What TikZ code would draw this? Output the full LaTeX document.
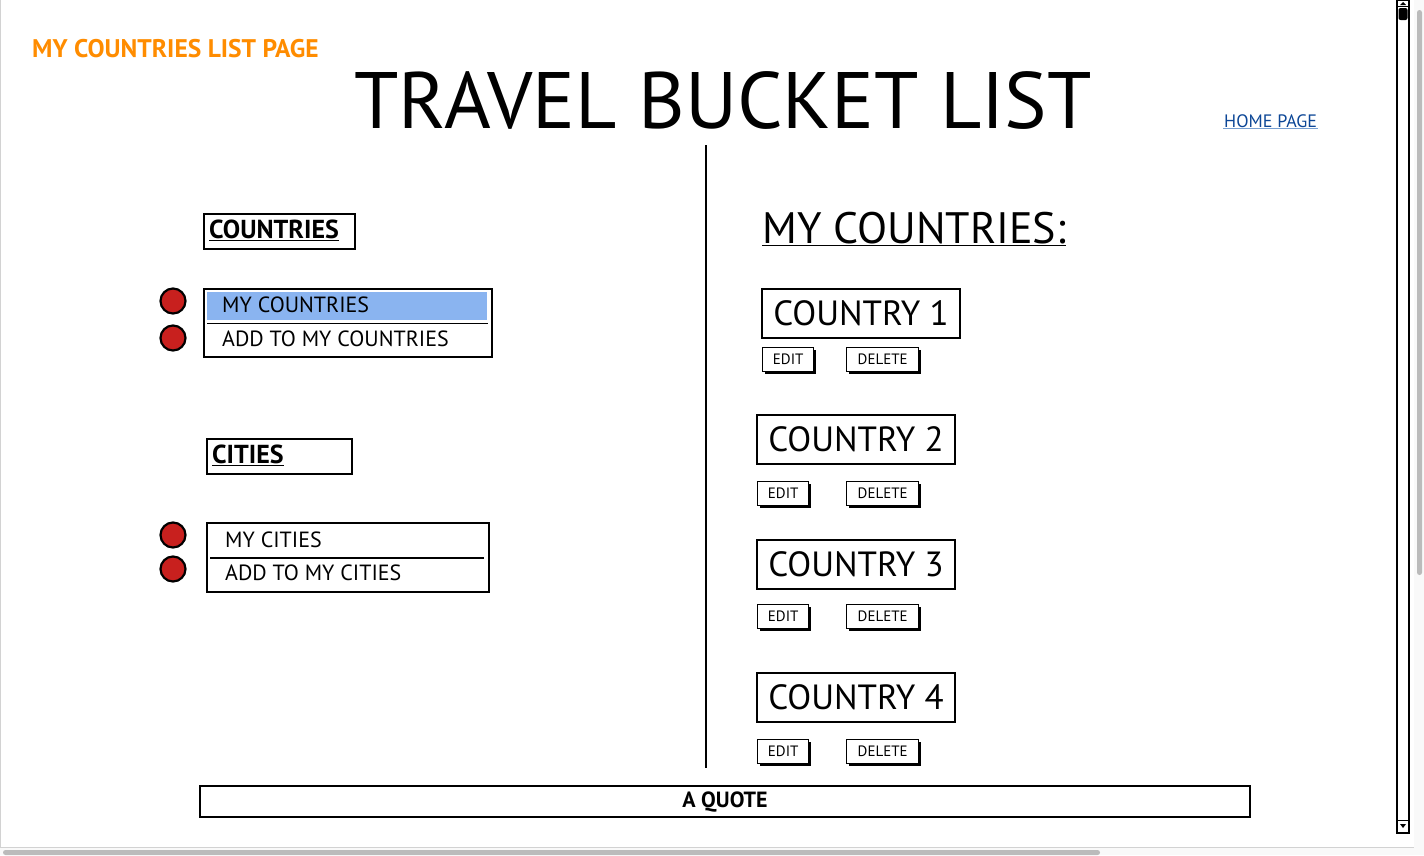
\documentclass[tikz,border=0pt]{standalone}
\usepackage{fontspec}
\setmainfont{PT Sans}
\usetikzlibrary{shadows}

\definecolor{pageorange}{RGB}{255,140,0}
\definecolor{linkblue}{RGB}{12,70,150}
\definecolor{linkline}{RGB}{120,160,210}
\definecolor{selblue}{RGB}{138,180,240}
\definecolor{dotred}{RGB}{200,32,30}
\definecolor{bargray}{RGB}{187,187,187}

\tikzset{
  box/.style={draw,line width=2pt,inner sep=0pt,anchor=north west},
  cbox/.style={box,minimum width=198,minimum height=49,font=\fontsize{35}{35}\selectfont},
  btn/.style={draw,line width=1.4pt,fill=white,inner sep=0pt,anchor=north west,
    minimum height=24,font=\fontsize{15}{15}\selectfont,
    drop shadow={shadow xshift=2pt,shadow yshift=-2pt,opacity=1,fill=black}},
  dot/.style={circle,draw,line width=2.2pt,fill=dotred,minimum size=25,inner sep=0pt},
  item/.style={anchor=base west,inner sep=0pt,font=\fontsize{22}{22}\selectfont},
  heading/.style={anchor=base west,inner sep=0pt,font=\bfseries\fontsize{26}{26}\selectfont},
}

\begin{document}
\begin{tikzpicture}[x=1pt,y=-1pt]
\useasboundingbox (0,0) rectangle (1424,855);

% window frame
\fill[gray!5] (1414,0) rectangle (1424,855);
\fill[gray!5] (0,848) rectangle (1424,855);
\draw[gray!35] (0.5,0) -- (0.5,847.5) -- (1414,847.5);
\fill[bargray,rounded corners=2.5] (1417,10) rectangle (1422,575);
\fill[bargray,rounded corners=2.5] (3,850) rectangle (1100,855);

% scrollbar
\draw[line width=1.5pt] (1397,0) rectangle (1409,833);
\draw[line width=1pt] (1397,6.5) -- (1409,6.5);
\fill (1400,5) -- (1406,5) -- (1403,2) -- cycle;
\fill[rounded corners=2] (1398.5,8) rectangle (1407.5,20);
\draw[line width=1pt] (1397,820) -- (1409,820);
\fill (1400,824) -- (1406,824) -- (1403,828) -- cycle;

% header
\node[anchor=base west,inner sep=0pt,text=pageorange,font=\bfseries\fontsize{25.5}{25}\selectfont] (pagename) at (32,57) {MY COUNTRIES LIST PAGE};
\node[anchor=base,inner sep=0pt,font=\fontsize{80}{80}\selectfont] (title) at (723,128) {TRAVEL BUCKET LIST};
\node[anchor=base west,inner sep=1pt,text=linkblue,font=\fontsize{18}{18}\selectfont] (home) at (1223,127) {HOME PAGE};
\draw[linkline,line width=1pt] (home.south west) -- (home.south east);

\draw[line width=2pt] (706,145) -- (706,768);

% countries menu
\node[box,minimum width=151,minimum height=35] (cntbox) at (203,213) {};
\node[heading] (cnthd) at (209,238) {\underline{COUNTRIES}};

\node[box,minimum width=288,minimum height=68] (menu1) at (203,288) {};
\fill[selblue] (207,292) rectangle (487,320);
\draw[line width=1.5pt] (207,323.5) -- (488,323.5);
\node[item] (mycnt) at (222,312) {MY COUNTRIES};
\node[item] (addcnt) at (222,346) {ADD TO MY COUNTRIES};
\node[dot] (dot1) at (173,301) {};
\node[dot] (dot2) at (173,338) {};

% cities menu
\node[box,minimum width=145,minimum height=35] (citbox) at (206,438) {};
\node[heading] (cithd) at (212,463) {\underline{CITIES}};

\node[box,minimum width=282,minimum height=69] (menu2) at (206,522) {};
\draw[line width=1.5pt] (210,558) -- (484,558);
\node[item] (mycit) at (225,547) {MY CITIES};
\node[item] (addcit) at (225,580) {ADD TO MY CITIES};
\node[dot] (dot3) at (173,535) {};
\node[dot] (dot4) at (173,569) {};

% my countries
\node[anchor=base west,inner sep=0pt,font=\fontsize{44}{44}\selectfont] (mylist) at (762,243) {\underline{MY COUNTRIES:}};

\node[cbox] (c1) at (761,288) {COUNTRY 1};
\node[btn,minimum width=51] (e1) at (762,347) {EDIT};
\node[btn,minimum width=72] (d1) at (846,347) {DELETE};

\node[cbox] (c2) at (756,414) {COUNTRY 2};
\node[btn,minimum width=51] (e2) at (757,481) {EDIT};
\node[btn,minimum width=72] (d2) at (846,481) {DELETE};

\node[cbox] (c3) at (756,539) {COUNTRY 3};
\node[btn,minimum width=51] (e3) at (757,604) {EDIT};
\node[btn,minimum width=72] (d3) at (846,604) {DELETE};

\node[cbox] (c4) at (756,672) {COUNTRY 4};
\node[btn,minimum width=51] (e4) at (757,739) {EDIT};
\node[btn,minimum width=72] (d4) at (846,739) {DELETE};

% footer
\node[box,minimum width=1050,minimum height=31,font=\bfseries\fontsize{22}{22}\selectfont] (quote) at (199,785) {A QUOTE};
\end{tikzpicture}
\end{document}
